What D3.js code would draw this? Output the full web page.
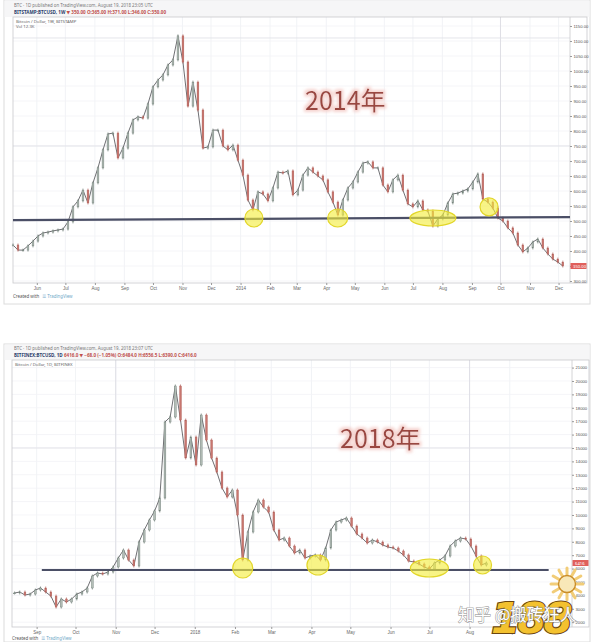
<!DOCTYPE html>
<html><head><meta charset="utf-8">
<script src="https://cdn.jsdelivr.net/npm/d3@7"></script>
<style>body{margin:0;background:#fff;}svg{display:block;font-family:"Noto Sans","DejaVu Sans",sans-serif;}</style>
</head><body><svg id="c" width="600" height="642"></svg>
<script>
// ---------------- DATA ----------------
// Upper chart (2014)
const topStart = "2013-05-07";
const topStepDays = 5.25;
const topCloses = [420,403,403,417,433,450,460,463,467,470,473,497,547,567,603,560,627,677,737,790,
  793,710,743,793,837,847,843,890,947,970,987,1020,1037,1117,1030,883,963,870,743,747,
  803,803,750,737,753,703,653,570,537,597,590,567,610,663,660,667,587,603,653,677,
  663,650,637,597,563,520,570,610,630,663,693,697,677,677,620,597,637,653,603,557,
  547,567,537,533,483,507,520,560,590,593,600,607,630,657,573,563,543,510,500,477,
  460,420,397,410,430,440,410,390,373,363,350];
const topPriceTicks = [300,350,400,450,500,550,600,650,700,750,800,850,900,950,1000,1050,1100,1150];
const topDateTicks = ["2013-06-01","2013-07-01","2013-08-01","2013-09-01","2013-10-01","2013-11-01","2013-12-01",
  "2014-01-01","2014-02-01","2014-03-01","2014-04-01","2014-05-01","2014-06-01","2014-07-01","2014-08-01",
  "2014-09-01","2014-10-01","2014-11-01","2014-12-01"];
const topDateLabels = ["Jun","Jul","Aug","Sep","Oct","Nov","Dec","2014","Feb","Mar","Apr","May","Jun","Jul","Aug","Sep","Oct","Nov","Dec"];
const topSupport = [{date:"2013-05-07", value:503},{date:"2014-12-13", value:513}];
const topMarks = [{date:"2014-01-15", value:510},{date:"2014-04-13", value:510},{date:"2014-07-22", value:510},{date:"2014-09-19", value:547}];
const topLast = 350;

// Lower chart (2018)
const botStart = "2017-08-15";
const botStepDays = 4;
const botCloses = [4177,4252,4028,4100,4401,4550,4252,3950,3130,3730,3505,3730,4100,4252,4550,5445,5669,5595,5744,6117,
  6789,7386,6640,6192,7983,8879,9625,10296,11267,16938,17312,19625,17088,14252,15819,13730,17461,15595,14252,13207,
  12013,11342,11864,9998,6640,8730,10222,11118,10595,10222,8879,8132,8282,7684,7162,7386,6789,6938,7013,6640,
  7535,8879,9476,9625,9774,9177,8580,8282,7908,8132,7983,7759,7610,7535,7311,7013,6565,6490,6341,6117,
  5968,6416,6640,6938,7684,8057,8282,8207,7684,6938,6267,6416];
const botPriceTicks = [2000,3000,4000,5000,6000,7000,8000,9000,10000,11000,12000,13000,14000,15000,16000,17000,18000,19000,20000,21000];
const botDateTicks = ["2017-09-01","2017-10-01","2017-11-01","2017-12-01","2018-01-01","2018-02-01","2018-03-01",
  "2018-04-01","2018-05-01","2018-06-01","2018-07-01","2018-08-01","2018-09-01"];
const botDateLabels = ["Sep","Oct","Nov","Dec","2018","Feb","Mar","Apr","May","Jun","Jul","Aug","Sep"];
const botSupport = [{date:"2017-09-05", value:5894},{date:"2018-10-01", value:5894}];
const botMarks = [{date:"2018-02-07", value:6043},{date:"2018-04-06", value:6267},{date:"2018-07-01", value:6043},{date:"2018-08-11", value:6267}];
const botLast = 6416;

// ---------------- DRAW ----------------
const parse = d3.utcParse("%Y-%m-%d");
const svg = d3.select("#c");
const DAY = 864e5;

function panel(cfg){
  const g = svg.append("g");
  const {ox0, ox1, oy0, oy1, px0, px1, py0, py1, axisW} = cfg;
  g.append("rect").attr("x",ox0).attr("y",oy0).attr("width",ox1-ox0).attr("height",oy1-oy0)
    .attr("fill","#fff").attr("stroke","#dcdcdc");
  g.append("rect").attr("x",ox0+0.5).attr("y",oy0+0.5).attr("width",ox1-ox0-1).attr("height",py0-oy0-0.5)
    .attr("fill","#f6f6f7");
  const x = d3.scaleUtc().domain(cfg.xDomain.map(parse)).range([px0, px1]);
  const y = d3.scaleLinear().domain(cfg.yDomain).range([py1, py0]);
  const grid = g.append("g");
  grid.selectAll("line.v").data(cfg.dateTicks).join("line")
    .attr("x1",d=>x(parse(d))).attr("x2",d=>x(parse(d))).attr("y1",py0).attr("y2",py1)
    .attr("stroke","#eef0f4").attr("stroke-width",0.8);
  grid.selectAll("line.h").data(cfg.priceTicks).join("line")
    .attr("x1",px0).attr("x2",px1).attr("y1",d=>y(d)).attr("y2",d=>y(d))
    .attr("stroke","#f2f3f6").attr("stroke-width",0.8);
  cfg.strongV.forEach(d=>g.append("line").attr("x1",x(parse(d))).attr("x2",x(parse(d))).attr("y1",py0).attr("y2",py1).attr("stroke","#dcdde3").attr("stroke-width",0.9));
  cfg.strongH.forEach(d=>g.append("line").attr("x1",px0).attr("x2",px1).attr("y1",y(d)).attr("y2",y(d)).attr("stroke","#e1e2e8").attr("stroke-width",0.9));
  g.append("rect").attr("x",px0).attr("y",py0).attr("width",px1+axisW-px0).attr("height",py1-py0)
    .attr("fill","none").attr("stroke","#c9c9cc").attr("stroke-width",0.8);
  g.append("line").attr("x1",px1).attr("x2",px1).attr("y1",py0).attr("y2",py1).attr("stroke","#c9c9cc").attr("stroke-width",0.8);
  const ya = d3.axisRight(y).tickValues(cfg.priceTicks).tickSize(2).tickFormat(d=>cfg.fmt(d));
  const yg = g.append("g").attr("transform",`translate(${px1},0)`).call(ya);
  yg.select(".domain").remove();
  yg.selectAll("line").attr("stroke","#999");
  yg.selectAll("text").attr("font-size",4.2).attr("fill","#555").attr("x",3.5);
  const xa = d3.axisBottom(x).tickValues(cfg.dateTicks.map(parse)).tickSize(2)
    .tickFormat((d,i)=>cfg.dateLabels[i]);
  const xg = g.append("g").attr("transform",`translate(0,${py1})`).call(xa);
  xg.select(".domain").remove();
  xg.selectAll("line").attr("stroke","#999");
  xg.selectAll("text").attr("font-size",4.5).attr("fill","#666").attr("y",3.5);
  // candles
  const t0 = parse(cfg.start).getTime();
  const pts = cfg.closes.map((c,i)=>({date:new Date(t0+i*cfg.step*DAY), open: i? cfg.closes[i-1]: c, close:c}));
  g.append("path").datum(pts).attr("fill","none").attr("stroke","#707074").attr("stroke-width",1)
    .attr("stroke-linejoin","round")
    .attr("d",d3.line().x(d=>x(d.date)).y(d=>y(d.close)));
  const cg = g.append("g");
  pts.forEach(p=>{
    const up = p.close>=p.open;
    const col = up? "#6c7a73" : "#b0605a";
    const cx = x(p.date);
    const y1 = y(Math.max(p.open,p.close)), y2 = y(Math.min(p.open,p.close));
    cg.append("line").attr("x1",cx).attr("x2",cx).attr("y1",y1-1.5).attr("y2",y2+1.5).attr("stroke",col).attr("stroke-width",0.7);
    cg.append("rect").attr("x",cx-0.9).attr("y",y1).attr("width",1.8).attr("height",Math.max(0.8,y2-y1))
      .attr("fill",up?"#b3bdb7":"#c8766f").attr("stroke",col).attr("stroke-width",0.4);
  });
  g.append("line").attr("x1",x(parse(cfg.support[0].date))).attr("y1",y(cfg.support[0].value))
    .attr("x2",x(parse(cfg.support[1].date))).attr("y2",y(cfg.support[1].value))
    .attr("stroke","#4b4f66").attr("stroke-width",2.2);
  cfg.marks.forEach((m,i)=>{
    g.append("ellipse").attr("cx",x(parse(m.date))).attr("cy",y(m.value))
      .attr("rx",cfg.radii[i][0]).attr("ry",cfg.radii[i][1])
      .attr("fill","#f3ee3c").attr("fill-opacity",0.62).attr("stroke","#e2d62a").attr("stroke-width",1.2);
  });
  g.append("rect").attr("x",px1+0.5).attr("y",y(cfg.last)-3).attr("width",axisW-1).attr("height",6).attr("fill","#e0605c");
  g.append("text").attr("x",px1+3).attr("y",y(cfg.last)+1.6).attr("font-size",4.2).attr("fill","#fff").text(cfg.fmt(cfg.last));
  g.append("text").attr("x",ox0+10).attr("y",oy0+cfg.h1).attr("font-size",4.4).attr("fill","#777").text(cfg.header1);
  const h2 = g.append("text").attr("x",ox0+10).attr("y",oy0+cfg.h2).attr("font-size",4.6).attr("font-weight","bold");
  h2.append("tspan").attr("fill","#2c3e6b").text(cfg.header2a);
  h2.append("tspan").attr("fill","#c0504d").text(cfg.header2b);
  cfg.legend.forEach((t,i)=>g.append("text").attr("x",px0+3).attr("y",py0+6+i*5).attr("font-size",4.3).attr("fill","#666").text(t));
  g.append("text").attr("x",px0).attr("y",cfg.credY).attr("font-size",4.4).attr("fill","#555").text("Created with")
    .append("tspan").attr("fill","#6fa8c8").attr("dx",3).text("☰ TradingView");
  g.append("text").attr("x",cfg.title[0]).attr("y",cfg.title[1]).attr("font-size",25)
    .attr("font-family","'Noto Sans CJK SC','Noto Sans',sans-serif").attr("fill","#9a4641")
    .attr("filter","url(#glow)").text(cfg.titleText);
  return {x,y};
}

const defs = svg.append("defs");
const f = defs.append("filter").attr("id","glow").attr("x","-20%").attr("y","-40%").attr("width","140%").attr("height","180%");
f.append("feMorphology").attr("in","SourceAlpha").attr("operator","dilate").attr("radius",1.5).attr("result","d");
f.append("feGaussianBlur").attr("in","d").attr("stdDeviation",1.6).attr("result","b");
f.append("feFlood").attr("flood-color","#f3c9c4").attr("flood-opacity",0.8);
f.append("feComposite").attr("in2","b").attr("operator","in").attr("result","g");
const fm = f.append("feMerge"); fm.append("feMergeNode").attr("in","g"); fm.append("feMergeNode").attr("in","SourceGraphic");

panel({ox0:4, ox1:590, oy0:0, oy1:304, px0:13, px1:570, py0:17, py1:283, axisW:17,
  xDomain:["2013-05-07","2014-12-13"], yDomain:[293.3,1180],
  dateTicks:topDateTicks, dateLabels:topDateLabels, priceTicks:topPriceTicks,
  strongV:["2014-10-01"], strongH:[1110,750],
  fmt:d=>d3.format(".2f")(d), start:topStart, step:topStepDays, closes:topCloses,
  support:topSupport, marks:topMarks, radii:[[9,9],[10,9],[23,8],[9,9]], last:topLast,
  h1:7, h2:13.5, header1:"BTC · 1D  published on TradingView.com, August 19, 2018 23:05 UTC",
  header2a:"BITSTAMP:BTCUSD, 1W  ", header2b:"▼ 350.00  O:365.00 H:371.00 L:346.00 C:350.00",
  legend:["Bitcoin / Dollar, 1W, BITSTAMP","Vol 12.3K"], credY:298,
  title:[305,110], titleText:"2014年"});

panel({ox0:4, ox1:590, oy0:344, oy1:642, px0:12, px1:572, py0:360, py1:627, axisW:17,
  xDomain:["2017-08-13","2018-10-19"], yDomain:[1640,21566],
  dateTicks:botDateTicks, dateLabels:botDateLabels, priceTicks:botPriceTicks,
  strongV:["2018-08-01","2017-11-01"], strongH:[15000],
  fmt:d=>d3.format(".0f")(d), start:botStart, step:botStepDays, closes:botCloses,
  support:botSupport, marks:botMarks, radii:[[10,10],[11,10],[19,9],[9,9]], last:botLast,
  h1:6, h2:12.5, header1:"BTC · 1D  published on TradingView.com, August 19, 2018 23:07 UTC",
  header2a:"BITFINEX:BTCUSD, 1D  ", header2b:"6416.0 ▼ −68.0 (−1.05%) O:6484.0 H:6556.5 L:6390.0 C:6416.0",
  legend:["Bitcoin / Dollar, 1D, BITFINEX"], credY:640,
  title:[340,448], titleText:"2018年"});

// watermark logo
const wm = svg.append("g");
const sun = wm.append("g").attr("transform","translate(567,584)");
d3.range(0,360,30).forEach(a=>{
  sun.append("line").attr("x1",0).attr("y1",0).attr("x2",16*Math.cos(a*Math.PI/180)).attr("y2",16*Math.sin(a*Math.PI/180))
    .attr("stroke","#f2cd78").attr("stroke-width",3).attr("stroke-linecap","round");
});
sun.append("circle").attr("r",8.5).attr("fill","#f8e8b8").attr("stroke","#c98d2a").attr("stroke-width",1.4);
wm.append("text").attr("x",491).attr("y",633).attr("font-size",42).attr("font-weight","bold").attr("font-style","italic")
  .attr("font-family","'DejaVu Sans',sans-serif").attr("fill","#f3c12f").attr("stroke","#6a4510").attr("stroke-width",2.2)
  .attr("paint-order","stroke").attr("letter-spacing",-3).text("188");
wm.append("text").attr("x",458).attr("y",621).attr("font-size",16.5)
  .attr("font-family","'Noto Sans CJK SC',sans-serif").attr("fill","#ffffff").attr("stroke","#8a8a8a").attr("stroke-width",0.9)
  .attr("paint-order","stroke").text("知乎 @搬砖狂人");
</script></body></html>
